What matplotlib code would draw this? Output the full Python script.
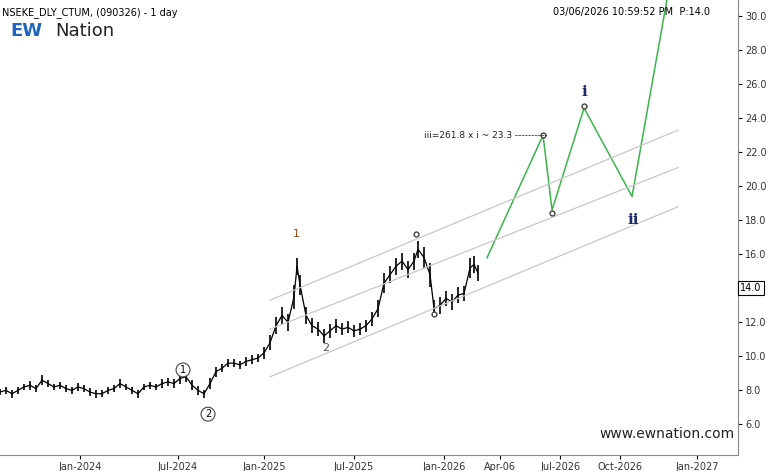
import matplotlib.pyplot as plt

# x axis is a bar-position scale; tick labels mark the calendar
tick_pos = [80, 178, 264, 354, 444, 500, 560, 620, 697]
tick_lbl = ["Jan-2024", "Jul-2024", "Jan-2025", "Jul-2025", "Jan-2026",
            "Apr-06", "Jul-2026", "Oct-2026", "Jan-2027"]

bar_x = [0, 6, 12, 18, 24, 30, 36, 42, 48, 54, 60, 66, 72, 78, 84, 90, 96, 102, 108, 114,
         120, 126, 132, 138, 144, 150, 156, 162, 168, 174, 180, 186, 192, 198, 204, 210, 216,
         222, 228, 234, 240, 246, 252, 258, 264, 270, 276, 282, 288, 294, 297, 300, 306, 312,
         318, 324, 330, 336, 342, 348, 354, 360, 366, 372, 378, 384, 390, 396, 402, 408, 414,
         418, 424, 430, 434, 440, 446, 452, 458, 464, 470, 474, 478]
bar_mid = [7.9, 8.0, 7.8, 8.0, 8.2, 8.3, 8.1, 8.6, 8.4, 8.2, 8.3, 8.1, 8.0, 8.2, 8.1, 7.9,
           7.8, 7.8, 8.0, 8.1, 8.4, 8.2, 8.0, 7.8, 8.2, 8.3, 8.2, 8.4, 8.5, 8.4, 8.7, 8.8,
           8.3, 8.0, 7.8, 8.4, 9.1, 9.3, 9.6, 9.6, 9.5, 9.7, 9.8, 9.9, 10.2, 10.8, 11.8, 12.4,
           12.0, 13.5, 15.3, 14.2, 12.4, 11.8, 11.6, 11.2, 11.5, 11.8, 11.6, 11.7, 11.5, 11.6,
           11.8, 12.2, 12.8, 14.3, 14.8, 15.3, 15.6, 15.1, 15.6, 16.3, 15.8, 14.8, 12.8, 13.0,
           13.4, 13.2, 13.6, 13.7, 15.2, 15.4, 14.9]
bar_rng = [0.4, 0.4, 0.5, 0.4, 0.4, 0.5, 0.4, 0.6, 0.4, 0.4, 0.4, 0.4, 0.4, 0.5, 0.4, 0.5,
           0.5, 0.4, 0.4, 0.4, 0.5, 0.4, 0.4, 0.5, 0.4, 0.4, 0.4, 0.5, 0.5, 0.5, 0.6, 0.6,
           0.6, 0.5, 0.5, 0.6, 0.6, 0.5, 0.5, 0.5, 0.5, 0.5, 0.5, 0.5, 0.7, 0.9, 1.0, 1.0,
           1.0, 1.4, 1.0, 1.2, 1.0, 0.9, 0.8, 0.8, 0.8, 0.8, 0.7, 0.7, 0.7, 0.7, 0.7, 0.8,
           1.0, 1.2, 1.0, 1.0, 1.0, 1.0, 1.0, 1.0, 1.2, 1.4, 1.0, 1.0, 0.9, 0.9, 0.9, 0.9,
           1.2, 1.0, 0.9]

proj_x = [487, 543, 552, 584, 632, 667]
proj_y = [15.8, 23.0, 18.6, 24.6, 19.4, 31.0]

chan_x = [270, 678]
chan_up = [13.3, 23.3]
chan_mid = [11.6, 21.1]
chan_lo = [8.8, 18.8]

yticks = [6.0, 8.0, 10.0, 12.0, 16.0, 18.0, 20.0, 22.0, 24.0, 26.0, 28.0, 30.0]

fig = plt.figure(figsize=(7.68, 4.71), dpi=100)
ax = fig.add_axes([0.0, 0.034, 0.961, 0.966])
ax.set_xlim(0, 738)
ax.set_ylim(4.2, 30.95)

for x, m, r in zip(bar_x, bar_mid, bar_rng):
    ax.vlines(x, m - r / 2, m + r / 2, color="black", lw=1.2)
ax.plot(bar_x, bar_mid, color="black", lw=0.9)

ax.plot(proj_x, proj_y, color="#3cb44b", lw=1.1)
for c in (chan_up, chan_mid, chan_lo):
    ax.plot(chan_x, c, color="#c8c8c8", lw=0.9)

for x, y in [(416, 17.2), (434, 12.5), (543, 23.0), (552, 18.4), (584, 24.7)]:
    ax.plot(x, y, "o", ms=3.5, mfc="white", mec="#444444", mew=1)
ax.text(296, 17.0, "1", color="#8b4513", fontsize=8, ha="center")
ax.text(326, 10.3, "2", color="#555555", fontsize=8, ha="center")
ax.text(183, 9.2, "1", fontsize=7, ha="center", va="center",
        bbox=dict(boxstyle="circle,pad=0.2", fc="white", ec="#444444", lw=0.8))
ax.text(208, 6.6, "2", fontsize=7, ha="center", va="center",
        bbox=dict(boxstyle="circle,pad=0.2", fc="white", ec="#444444", lw=0.8))
ax.text(584, 25.3, "i", color="#1a2a6c", fontsize=11, ha="center", family="DejaVu Serif", fontweight="bold")
ax.text(633, 17.8, "ii", color="#1a2a6c", fontsize=11, ha="center", family="DejaVu Serif", fontweight="bold")
ax.text(424, 23.0, "iii=261.8 x i ~ 23.3 ----------", fontsize=6.5, color="#222222", va="center")

ax.set_xticks(tick_pos)
ax.set_xticklabels(tick_lbl, fontsize=7, color="#333333")
ax.yaxis.tick_right()
ax.set_yticks(yticks)
ax.set_yticklabels([f"{v:.1f}" for v in yticks], fontsize=7, color="#333333")
ax.tick_params(length=3, pad=2)
for s in ("top", "left"):
    ax.spines[s].set_visible(False)
ax.spines["right"].set_color("#888888")
ax.spines["bottom"].set_color("#888888")

ax.text(1.003, (14.0 - 4.2) / (30.95 - 4.2), "14.0", transform=ax.transAxes, fontsize=7,
        va="center", bbox=dict(boxstyle="square,pad=0.2", fc="white", ec="black", lw=0.8))

fig.text(0.003, 0.985, "NSEKE_DLY_CTUM, (090326) - 1 day", fontsize=7, va="top")
fig.text(0.925, 0.985, "03/06/2026 10:59:52 PM  P:14.0", fontsize=7, va="top", ha="right")
fig.text(0.013, 0.935, "EW", fontsize=13, color="#1f66c2", fontweight="bold", va="center")
fig.text(0.072, 0.935, "Nation", fontsize=13, color="#222222", va="center")
fig.text(0.78, 0.07, "www.ewnation.com", fontsize=10, color="#222222")

fig.savefig("out.png", dpi=100)
